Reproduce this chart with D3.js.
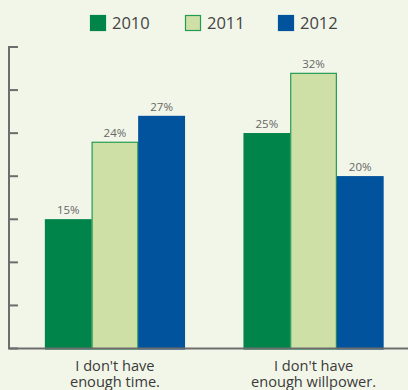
<!DOCTYPE html>
<html>
<head>
<meta charset="utf-8">
<script src="https://cdn.jsdelivr.net/npm/d3@7"></script>
<style>
  body { margin: 0; background: #f2f6e8; }
  svg { display: block; font-family: "Open Sans", "Noto Sans", sans-serif; }
</style>
</head>
<body>
<svg class="chart" width="408" height="390"></svg>
<script>
// data
var categories = ["I don't have\nenough time.", "I don't have\nenough willpower."];
var years = ["2010", "2011", "2012"];
var values2010 = [15, 25];
var values2011 = [24, 32];
var values2012 = [27, 20];
var yTicks = [0, 5, 10, 15, 20, 25, 30, 35];

var fills = {"2010": "#00844a", "2011": "#cfe0a6", "2012": "#00539c"};
var strokes = {"2010": "#00844a", "2011": "#239b53", "2012": "#00539c"};

var svg = d3.select(".chart"),
    width = +svg.attr("width"), height = +svg.attr("height");

var rows = categories.map(function(c, i) {
  return {cat: c, vals: [values2010[i], values2011[i], values2012[i]]};
});

var x0 = d3.scaleBand().domain(categories).range([9, 419.5])
  .paddingInner(0.295).paddingOuter(0.181);
var x1 = d3.scaleBand().domain(years).range([0, x0.bandwidth()]);
var y = d3.scaleLinear().domain([0, 35]).range([348.5, 47]);

// y axis: line + short ticks, no labels
var axisG = svg.append("g").attr("stroke", "#6d6d6d").attr("stroke-width", 2);
axisG.append("line").attr("x1", 9).attr("x2", 9).attr("y1", y(35) - 1).attr("y2", y(0));
axisG.selectAll(".tick").data(yTicks).enter().append("line")
  .attr("x1", 9).attr("x2", 18)
  .attr("y1", function(d) { return y(d); })
  .attr("y2", function(d) { return y(d); });

// bars
var groups = svg.selectAll(".grp").data(rows).enter().append("g")
  .attr("transform", function(d) { return "translate(" + x0(d.cat) + ",0)"; });

groups.selectAll("rect").data(function(d) {
  return d.vals.map(function(v, i) { return {year: years[i], v: v}; });
}).enter().append("rect")
  .attr("x", function(d) { return x1(d.year) + 0.5; })
  .attr("width", x1.bandwidth() - 1)
  .attr("y", function(d) { return y(d.v) + 0.5; })
  .attr("height", function(d) { return y(0) - y(d.v); })
  .attr("fill", function(d) { return fills[d.year]; })
  .attr("stroke", function(d) { return strokes[d.year]; })
  .attr("stroke-width", 1.2);

groups.selectAll(".val").data(function(d) {
  return d.vals.map(function(v, i) { return {year: years[i], v: v}; });
}).enter().append("text")
  .attr("x", function(d) { return x1(d.year) + x1.bandwidth() / 2; })
  .attr("y", function(d) { return y(d.v) - 5; })
  .attr("text-anchor", "middle")
  .attr("font-size", 11.5)
  .attr("fill", "#666")
  .text(function(d) { return d.v + "%"; });

// baseline across the whole width
svg.append("line").attr("x1", 8).attr("x2", width)
  .attr("y1", y(0)).attr("y2", y(0))
  .attr("stroke", "#6d6d6d").attr("stroke-width", 2);

// category labels (two lines each)
groups.append("text")
  .attr("text-anchor", "middle")
  .attr("font-size", 14.6)
  .attr("fill", "#3a3a3a")
  .selectAll("tspan").data(function(d) { return d.cat.split("\n"); })
  .enter().append("tspan")
  .attr("x", x0.bandwidth() / 2)
  .attr("y", function(d, i) { return 370.5 + i * 16.5; })
  .text(function(d) { return d; });

// legend
var legendX = [90, 185, 278];
var legend = svg.selectAll(".leg").data(years).enter().append("g")
  .attr("transform", function(d, i) { return "translate(" + legendX[i] + ",15)"; });
legend.append("rect")
  .attr("x", 0.5).attr("y", 0.5).attr("width", 15).attr("height", 15)
  .attr("fill", function(d) { return fills[d]; })
  .attr("stroke", function(d) { return strokes[d]; })
  .attr("stroke-width", 1.2);
legend.append("text")
  .attr("x", 22).attr("y", 13.5)
  .attr("font-size", 16.5)
  .attr("fill", "#444")
  .text(function(d) { return d; });
</script>
</body>
</html>
